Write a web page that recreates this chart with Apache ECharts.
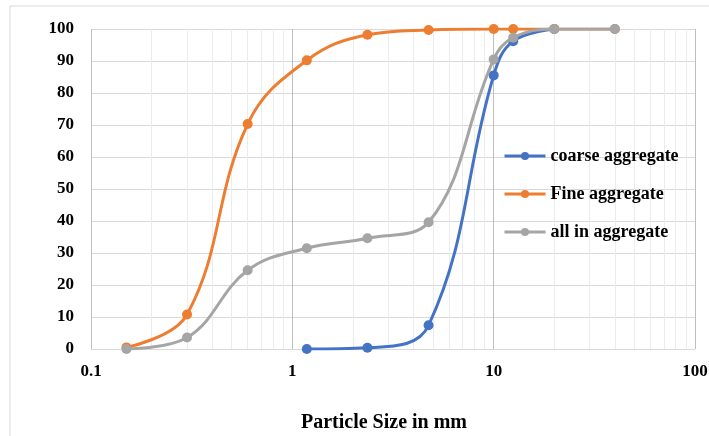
<!DOCTYPE html>
<html>
<head>
<meta charset="UTF-8">
<title>Particle size distribution</title>
<script src="https://cdn.jsdelivr.net/npm/echarts@6/dist/echarts.min.js"></script>
<style>
  html, body { margin: 0; padding: 0; background: #fff; }
  #main { width: 709px; height: 436px; }
</style>
</head>
<body>
<div id="main"></div>
<script type="text/javascript">
    // sieve sizes (mm) and % passing
    var sizes = [0.15, 0.3, 0.6, 1.18, 2.36, 4.75, 10, 12.5, 20, 40];
    var coarseSizes = [1.18, 2.36, 4.75, 10, 12.5, 20];
    var coarse = [0, 0.4, 7.4, 85.5, 96.2, 100];
    var fine = [0.5, 10.8, 70.3, 90.2, 98.2, 99.7, 100, 100, 100, 100];
    var allIn = [0, 3.6, 24.6, 31.5, 34.6, 39.6, 90.5, 97.3, 100, 100];
    var yTicks = [0, 10, 20, 30, 40, 50, 60, 70, 80, 90, 100];

    function pairs(xs, ys) {
        var out = [];
        for (var i = 0; i < xs.length; i++) out.push([xs[i], ys[i]]);
        return out;
    }

    var myChart = echarts.init(document.getElementById('main'));
    var font = '"Liberation Serif", "Times New Roman", serif';

    var option = {
        animation: false,
        textStyle: { fontFamily: font },
        graphic: [{
            type: 'rect',
            shape: { x: 10, y: 6, width: 720, height: 460 },
            style: { fill: null, stroke: '#d9d9d9', lineWidth: 1 },
            silent: true
        }],
        grid: { left: 91, right: 14, top: 29, bottom: 87, outerBoundsMode: 'none', containLabel: false },
        legend: {
            orient: 'vertical',
            left: 503,
            top: 147,
            padding: 0,
            itemGap: 20,
            itemWidth: 41,
            itemHeight: 10,
            lineStyle: { width: 3 },
            textStyle: { fontFamily: font, fontSize: 18, fontWeight: 'bold', color: '#000' },
            data: ['coarse aggregate', 'Fine aggregate', 'all in aggregate']
        },
        xAxis: {
            type: 'log',
            logBase: 10,
            min: 0.1,
            max: 100,
            name: 'Particle Size in mm',
            nameLocation: 'middle',
            nameGap: 64,
            nameTextStyle: { fontFamily: font, fontSize: 20, fontWeight: 'bold', color: '#000', padding: [0, 18, 0, 0] },
            axisLine: { show: false },
            axisTick: { show: false },
            axisLabel: { fontFamily: font, fontSize: 17, fontWeight: 'bold', color: '#000', margin: 14 },
            splitLine: { show: true, lineStyle: { color: '#bfbfbf', width: 1 } },
            minorTick: { show: false, splitNumber: 9 },
            minorSplitLine: { show: true, lineStyle: { color: '#ececec', width: 1 } }
        },
        yAxis: {
            type: 'value',
            min: yTicks[0],
            max: yTicks[yTicks.length - 1],
            interval: 10,
            axisLine: { show: false },
            axisTick: { show: false },
            axisLabel: { fontFamily: font, fontSize: 17, fontWeight: 'bold', color: '#000', margin: 17 },
            splitLine: { show: true, lineStyle: { color: '#d9d9d9', width: 1 } }
        },
        series: [{
            name: 'coarse aggregate',
            type: 'line',
            smooth: 0.4,
            symbol: 'circle',
            symbolSize: 10,
            color: '#4472C4',
            lineStyle: { width: 3 },
            z: 2,
            data: pairs(coarseSizes, coarse)
        }, {
            name: 'Fine aggregate',
            type: 'line',
            smooth: 0.4,
            symbol: 'circle',
            symbolSize: 10,
            color: '#ED7D31',
            lineStyle: { width: 3 },
            z: 3,
            data: pairs(sizes, fine)
        }, {
            name: 'all in aggregate',
            type: 'line',
            smooth: 0.4,
            symbol: 'circle',
            symbolSize: 10,
            color: '#A5A5A5',
            lineStyle: { width: 3 },
            z: 4,
            data: pairs(sizes, allIn)
        }]
    };
    myChart.setOption(option);
</script>
</body>
</html>
